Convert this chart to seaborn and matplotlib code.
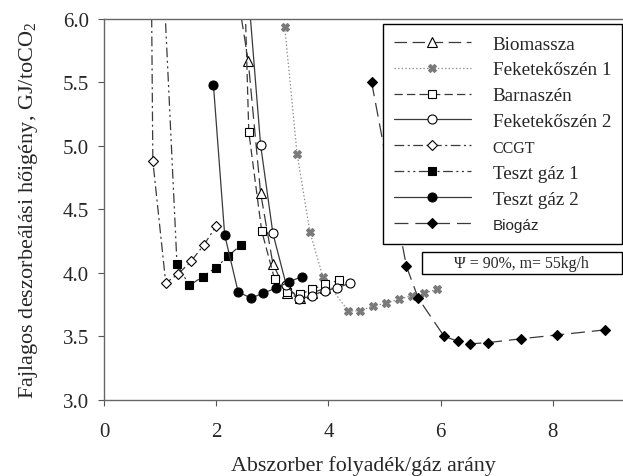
import matplotlib
matplotlib.use("Agg")
import matplotlib.pyplot as plt
from matplotlib.patches import Rectangle
import seaborn as sns

# Series (x = liquid/gas ratio, y = GJ/tCO2).
# Points at y=6.5 sit above the visible range; they only give the steep line its direction.
biomassza_x = [2.27, 2.57, 2.79, 3.01, 3.26, 3.49, 3.71, 3.94]
biomassza_y = [6.5, 5.67, 4.63, 4.07, 3.84, 3.80, 3.84, 3.88]

feketekoszen1_x = [3.22, 3.44, 3.67, 3.90, 4.35, 4.57, 4.80, 5.03, 5.25, 5.49, 5.71, 5.94]
feketekoszen1_y = [5.94, 4.94, 4.32, 3.97, 3.70, 3.70, 3.74, 3.76, 3.79, 3.82, 3.84, 3.87]

barnaszen_x = [2.49, 2.58, 2.81, 3.04, 3.26, 3.49, 3.71, 3.94, 4.18]
barnaszen_y = [6.5, 5.11, 4.33, 3.95, 3.85, 3.83, 3.87, 3.91, 3.94]

feketekoszen2_x = [2.52, 2.79, 3.01, 3.25, 3.48, 3.71, 3.93, 4.15, 4.39]
feketekoszen2_y = [6.5, 5.01, 4.31, 3.90, 3.79, 3.82, 3.86, 3.88, 3.92]

ccgt_x = [0.84, 0.87, 1.10, 1.32, 1.55, 1.78, 2.00]
ccgt_y = [6.5, 4.88, 3.92, 3.99, 4.09, 4.22, 4.37]

teszt1_x = [1.04, 1.30, 1.52, 1.76, 1.99, 2.21, 2.44]
teszt1_y = [6.5, 4.07, 3.90, 3.97, 4.04, 4.13, 4.22]

teszt2_x = [1.95, 2.15, 2.39, 2.62, 2.84, 3.07, 3.30, 3.53]
teszt2_y = [5.48, 4.30, 3.85, 3.80, 3.84, 3.88, 3.93, 3.97]

biogaz_x = [4.77, 5.39, 5.60, 6.06, 6.31, 6.52, 6.85, 7.43, 8.07, 8.93]
biogaz_y = [5.50, 4.05, 3.80, 3.50, 3.46, 3.44, 3.45, 3.48, 3.51, 3.55]

x_ticks = [0, 2, 4, 6, 8]
y_ticks = [3.0, 3.5, 4.0, 4.5, 5.0, 5.5, 6.0]

sns.set_theme(style="white")
plt.rcParams["font.family"] = ["Liberation Serif", "DejaVu Serif"]
plt.rcParams["mathtext.fontset"] = "custom"
plt.rcParams["mathtext.rm"] = "Liberation Serif"
plt.rcParams["lines.scale_dashes"] = False

fig = plt.figure(figsize=(6.23, 4.77), dpi=100)
ax = fig.add_axes([0.167, 0.16, 0.833, 0.798])

dark = "#3a3a3a"
series = [
    ("Biomassza", biomassza_x, biomassza_y, "^", "white", (0, (9, 4)), dark),
    ("Feketekőszén 1", feketekoszen1_x, feketekoszen1_y, "X", "#7a7a7a", (0, (1, 1.6)), "#8a8a8a"),
    ("Barnaszén", barnaszen_x, barnaszen_y, "s", "white", (0, (6, 3)), dark),
    ("Feketekőszén 2", feketekoszen2_x, feketekoszen2_y, "o", "white", "-", dark),
    ("CCGT", ccgt_x, ccgt_y, "D", "white", (0, (7, 2.5, 1.5, 2.5)), dark),
    ("Teszt gáz 1", teszt1_x, teszt1_y, "s", "black", (0, (7, 2.5, 1.5, 2.5, 1.5, 2.5)), dark),
    ("Teszt gáz 2", teszt2_x, teszt2_y, "o", "black", "-", dark),
    ("Biogáz", biogaz_x, biogaz_y, "D", "black", (0, (10, 5)), dark),
]

for label, xs, ys, marker, face, ls, col in series:
    edge = "#7a7a7a" if marker == "X" else "black"
    size = {"o": 6.5, "s": 6.0, "D": 5.5, "^": 6.5, "X": 6.0}[marker]
    sns.lineplot(
        x=xs, y=ys, ax=ax, sort=False, estimator=None, legend=False,
        label=label, color=col, linestyle=ls, linewidth=0.9,
        marker=marker, markersize=size, markerfacecolor=face,
        markeredgecolor=edge, markeredgewidth=0.8,
    )

ax.set_xlim(0, 9.25)
ax.set_ylim(3.0, 6.0)
ax.set_xticks(x_ticks)
ax.set_yticks(y_ticks)
ax.set_xticklabels([str(t) for t in x_ticks])
ax.set_yticklabels([f"{t:.1f}" for t in y_ticks])
ax.tick_params(axis="both", direction="out", length=4, width=0.8, color="#555555",
               labelsize=15, left=True, bottom=True)
ax.tick_params(axis="x", pad=12)
ax.tick_params(axis="y", pad=7)
for side in ["left", "bottom", "top"]:
    ax.spines[side].set_color("#666666")
    ax.spines[side].set_linewidth(1.0)
ax.spines["right"].set_visible(False)

ax.set_xlabel("Abszorber folyadék/gáz arány", fontsize=15.8, labelpad=10)
ax.set_ylabel("Fajlagos deszorbeálási hőigény, GJ/toCO$_2$", fontsize=16, labelpad=16)

leg = ax.legend(
    loc="upper left", bbox_to_anchor=(0.537, 0.42, 0.461, 0.567), mode="expand",
    borderaxespad=0, frameon=True, fancybox=False, framealpha=1, edgecolor="black",
    fontsize=13.8, handlelength=4.0, handletextpad=1.15, labelspacing=0.44,
    borderpad=0.58, numpoints=1,
)
leg.get_frame().set_linewidth(1.0)
for t in leg.get_texts():
    if t.get_text() == "CCGT":
        t.set_fontsize(11.5)
    if t.get_text() == "Biogáz":
        t.set_fontfamily(["Liberation Sans", "DejaVu Sans"])
        t.set_fontsize(11)

ax.add_patch(Rectangle((0.613, 0.330), 0.385, 0.058, transform=ax.transAxes,
                       facecolor="white", edgecolor="black", linewidth=1.0,
                       clip_on=False, zorder=5))
ax.text(0.805, 0.359, "Ψ = 90%, m= 55kg/h", transform=ax.transAxes,
        ha="center", va="center", fontsize=11.4, zorder=6)

fig.savefig("out.png", dpi=100)
